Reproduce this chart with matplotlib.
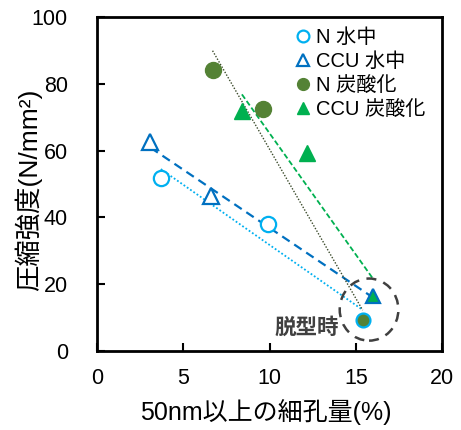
import numpy as np
import matplotlib
matplotlib.use('Agg')
import matplotlib.pyplot as plt
from matplotlib.patches import Ellipse

plt.rcParams['font.family'] = ['Liberation Sans', 'Noto Sans CJK JP']

# data
n_water_x = [3.7, 9.9, 15.4]
n_water_y = [51.7, 38.0, 9.2]
ccu_water_x = [3.1, 6.6, 16.0]
ccu_water_y = [62.5, 46.5, 16.6]
n_carb_x = [6.7, 9.65, 15.4]
n_carb_y = [84.0, 72.5, 9.2]
ccu_carb_x = [8.4, 12.2, 16.0]
ccu_carb_y = [71.8, 59.3, 16.6]

labels = ['N 水中', 'CCU 水中', 'N 炭酸化', 'CCU 炭酸化']
xticks = [0, 5, 10, 15, 20]
yticks = [0, 20, 40, 60, 80, 100]

c_lblue = '#00B0F0'
c_dblue = '#0070C0'
c_olive = '#548235'
c_green = '#00B050'

fig = plt.figure(figsize=(4.61, 4.30), dpi=100)
ax = fig.add_axes([0.2104, 0.1837, 0.7484, 0.7768])

# linear trend lines (like excel)
def trend(x, y, **kw):
    p = np.polyfit(x, y, 1)
    xs = np.array([min(x), max(x)])
    ax.plot(xs, np.polyval(p, xs), zorder=2, **kw)

trend(n_water_x, n_water_y, color=c_lblue, ls=(0, (1, 1.2)), lw=1.3)
trend(ccu_water_x, ccu_water_y, color=c_dblue, ls=(0, (4, 2.5)), lw=1.6)
trend(n_carb_x, n_carb_y, color='#3a4a2a', ls=(0, (1, 1.2)), lw=1.0)
trend(ccu_carb_x, ccu_carb_y, color=c_green, ls=(0, (3, 1.5)), lw=1.3)

# points
ax.plot(n_water_x[:2], n_water_y[:2], 'o', ms=11, mfc='white', mec=c_lblue, mew=1.6, ls='none', zorder=3)
ax.plot(ccu_water_x[:2], ccu_water_y[:2], '^', ms=11, mfc='white', mec=c_dblue, mew=1.6, ls='none', zorder=3)
ax.plot(n_carb_x[:2], n_carb_y[:2], 'o', ms=11.5, mfc=c_olive, mec=c_olive, ls='none', zorder=3)
ax.plot(ccu_carb_x[:2], ccu_carb_y[:2], '^', ms=11, mfc=c_green, mec=c_green, ls='none', zorder=3)
# overlapping end points (demolding)
ax.plot(n_carb_x[2], n_carb_y[2], 'o', ms=10, mfc=c_olive, mec=c_lblue, mew=1.6, zorder=4)
ax.plot(ccu_carb_x[2], ccu_carb_y[2], '^', ms=10, mfc=c_green, mec=c_dblue, mew=1.6, zorder=4)

# legend proxies
h1, = ax.plot([], [], 'o', ms=8.5, mfc='white', mec=c_lblue, mew=1.6)
h2, = ax.plot([], [], '^', ms=8.5, mfc='white', mec=c_dblue, mew=1.6)
h3, = ax.plot([], [], 'o', ms=8.5, mfc=c_olive, mec=c_olive)
h4, = ax.plot([], [], '^', ms=8.5, mfc=c_green, mec=c_green)
ax.legend([h1, h2, h3, h4], labels, loc='upper left', frameon=False, fontsize=14.5,
          handlelength=0.8, handletextpad=0.2, labelspacing=0.25,
          borderpad=0, borderaxespad=0, bbox_to_anchor=(0.575, 0.966))

# dashed circle around demolding points
ax.add_patch(Ellipse((15.77, 12.4), 3.4, 18.6, fill=False, ec='#404040', ls=(0, (4, 3)), lw=1.8, zorder=5))
ax.text(12.15, 7.2, '脱型時', fontsize=15.5, fontweight='bold', color='#404040',
        ha='center', va='center', family=['Noto Sans CJK JP'])

ax.set_xlim(0, 20)
ax.set_ylim(0, 100)
ax.set_xticks(xticks)
ax.set_yticks(yticks)
ax.tick_params(direction='in', length=6, width=1.5, labelsize=15.5)
ax.tick_params(axis='x', pad=12)
ax.tick_params(axis='y', pad=21)
for s in ax.spines.values():
    s.set_linewidth(2)

ax.set_xlabel('50nm以上の細孔量(%)', fontsize=18)
ax.set_ylabel('圧縮強度(N/mm²)', fontsize=19)
ax.xaxis.set_label_coords(0.49, -0.145)
ax.yaxis.set_label_coords(-0.16, 0.4835)

fig.savefig('out.png', dpi=100)
